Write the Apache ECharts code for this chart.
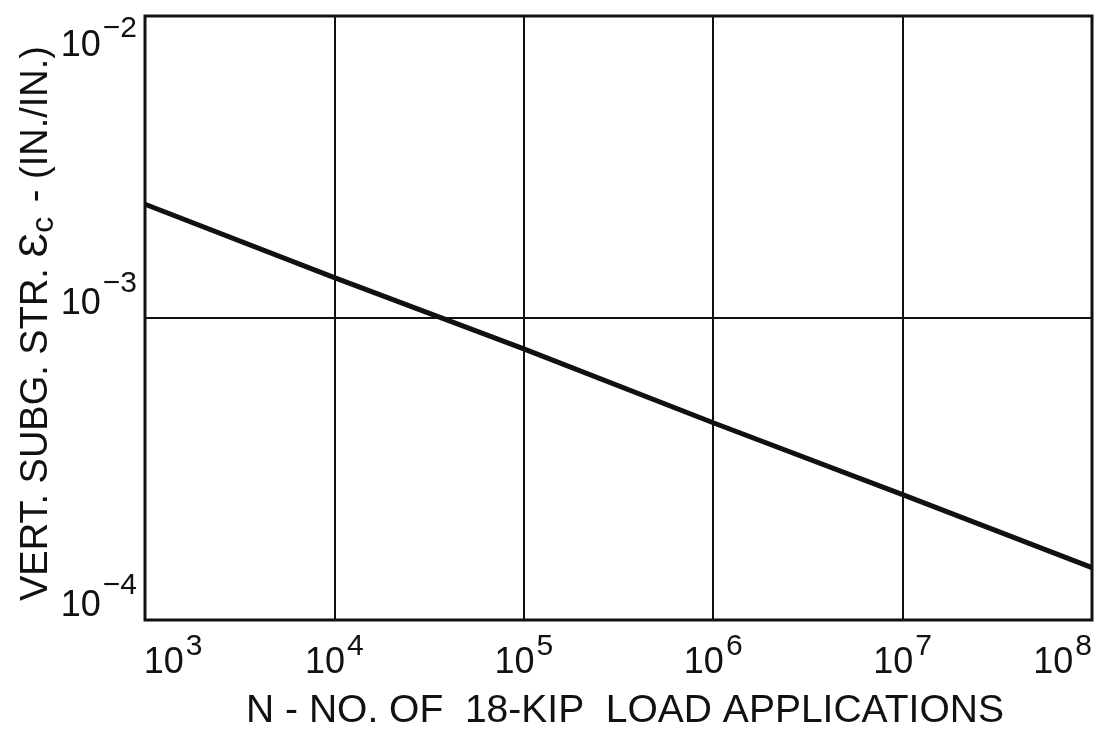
<!DOCTYPE html>
<html>
<head>
<meta charset="utf-8">
<script src="https://cdn.jsdelivr.net/npm/echarts@6/dist/echarts.min.js"></script>
<style>
  html, body { margin: 0; padding: 0; background: #fff; }
  #chart { width: 1100px; height: 735px; }
</style>
</head>
<body>
<div id="chart"></div>
<script>
// Load applications N (18-kip) and the allowable vertical subgrade strain
const loadApplications = [1e3, 1e4, 1e5, 1e6, 1e7, 1e8];
const subgradeStrain = [2.38e-3, 1.36e-3, 7.9e-4, 4.5e-4, 2.6e-4, 1.49e-4];

const xTitle = 'N - NO. OF  18-KIP  LOAD APPLICATIONS';
const yTitleParts = ['VERT. SUBG. STR. ', 'Ɛ', 'c', ' - (IN./IN.)'];

const SANS = '"Liberation Sans", Arial, sans-serif';
const INK = '#111';

function exponentText(v) {
  const e = Math.round(Math.log10(v));
  return e < 0 ? '\u2212' + (-e) : String(e);
}

// Each token keeps the same total height so the padding alone sets its vertical place
function tok(size, pad) {
  return { fontFamily: SANS, fontSize: size, color: INK, lineHeight: size, padding: pad };
}

const xRich = {
  b: tok(36, [25, 0, 19, 0]),
  s: tok(30, [12, 0, 38, 2]),
  bl: tok(36, [25, 0, 19, 56])
};
const yRich = {
  b: tok(36, [28, 0, 56, 0]),
  s: tok(30, [11, 0, 79, 2]),
  tb: tok(36, [72, 0, 12, 0]),
  ts: tok(30, [58, 0, 32, 2])
};

const chart = echarts.init(document.getElementById('chart'), null, { renderer: 'canvas' });

chart.setOption({
  backgroundColor: '#fff',
  animation: false,
  grid: {
    left: 145, right: 8, top: 16, bottom: 115,
    outerBoundsMode: 'none',
    containLabel: false,
    show: true, borderColor: INK, borderWidth: 3, backgroundColor: 'transparent'
  },
  xAxis: {
    type: 'log', logBase: 10, min: 1e3, max: 1e8,
    axisLine: { show: false },
    axisTick: { show: false },
    minorTick: { show: false },
    splitLine: { show: true, lineStyle: { color: INK, width: 2 } },
    axisLabel: {
      margin: 40,
      verticalAlign: 'middle',
      formatter: v => {
        const first = Math.round(Math.log10(v)) === 3;
        return '{' + (first ? 'bl' : 'b') + '|10}{s|' + exponentText(v) + '}';
      },
      rich: xRich,
      alignMaxLabel: 'right'
    },
    name: xTitle,
    nameLocation: 'middle',
    nameGap: 72,
    nameMoveOverlap: false,
    nameTextStyle: { fontFamily: SANS, fontSize: 39, color: INK, padding: [0, 0, 0, 13] }
  },
  yAxis: {
    type: 'log', logBase: 10, min: 1e-4, max: 1e-2,
    axisLine: { show: false },
    axisTick: { show: false },
    minorTick: { show: false },
    splitLine: { show: true, lineStyle: { color: INK, width: 2 } },
    axisLabel: {
      margin: 8,
      verticalAlign: 'middle',
      formatter: v => {
        const top = Math.round(Math.log10(v)) === -2;
        return top
          ? '{tb|10}{ts|' + exponentText(v) + '}'
          : '{b|10}{s|' + exponentText(v) + '}';
      },
      rich: yRich
    },
    name: '{t|' + yTitleParts[0] + '}{e|' + yTitleParts[1] + '}{c|' + yTitleParts[2] + '}{t|' + yTitleParts[3] + '}',
    nameLocation: 'middle',
    nameGap: 89,
    nameMoveOverlap: false,
    nameRotate: 90,
    nameTextStyle: {
      padding: [0, 11, 0, 0],
      rich: {
        t: { fontFamily: SANS, fontSize: 38, color: INK, verticalAlign: 'bottom', lineHeight: 44 },
        e: { fontFamily: SANS, fontSize: 41, color: INK, verticalAlign: 'bottom', lineHeight: 44 },
        c: { fontFamily: SANS, fontSize: 32, color: INK, verticalAlign: 'bottom', lineHeight: 44, padding: [0, 4, -4, 0] }
      }
    }
  },
  series: [{
    type: 'line',
    data: loadApplications.map((n, i) => [n, subgradeStrain[i]]),
    showSymbol: false,
    lineStyle: { color: INK, width: 5 },
    z: 5
  }]
});
</script>
</body>
</html>
